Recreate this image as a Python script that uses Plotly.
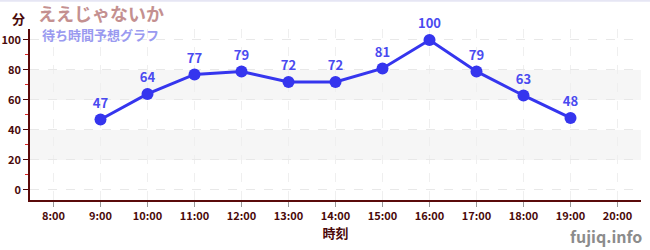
import plotly.graph_objects as go

times = ["8:00","9:00","10:00","11:00","12:00","13:00","14:00","15:00","16:00","17:00","18:00","19:00","20:00"]
waits = [None,47,64,77,79,72,72,81,100,79,63,48,None]
yticks = [0,20,40,60,80,100]
bands = [(20,40),(60,80)]

FONT = "Noto Sans CJK JP"
DARK = "#4a0a0a"

fig = go.Figure()
fig.add_trace(go.Scatter(
    x=list(range(len(times))), y=waits, mode="lines+markers+text",
    line=dict(color="#3535ee", width=3),
    marker=dict(color="#3535ee", size=12),
    text=[("" if v is None else str(v)) for v in waits],
    textposition="top center",
    textfont=dict(family=FONT, size=13, color="#4a4af0", weight="bold"),
    cliponaxis=False, hoverinfo="skip", connectgaps=False,
))

shapes = []
for lo, hi in bands:
    shapes.append(dict(type="rect", xref="paper", yref="y", x0=0, x1=1, y0=lo, y1=hi,
                       fillcolor="#f6f6f6", line=dict(width=0), layer="below"))
shapes.append(dict(type="line", xref="paper", yref="paper", x0=-0.1, x1=1.1, y0=1.165, y1=1.165,
                   line=dict(color="#e6e6f4", width=2)))
fig.update_layout(shapes=shapes)

fig.update_layout(
    width=650, height=250,
    margin=dict(l=30, r=9, t=29, b=50),
    paper_bgcolor="white", plot_bgcolor="white",
    showlegend=False,
    font=dict(family=FONT, color=DARK),
    xaxis=dict(
        range=[-0.5, 12.5], tickmode="array", tickvals=list(range(len(times))), ticktext=times,
        showgrid=True, gridcolor="#efefef", griddash="dash", gridwidth=1,
        showline=True, linecolor="#5a0a0a", linewidth=1.5,
        ticks="outside", ticklen=5, tickcolor="#999999",
        tickfont=dict(family=FONT, size=11, color=DARK, weight=600),
        zeroline=False, automargin=False,
        title=dict(text="時刻", font=dict(family=FONT, size=13, color=DARK, weight="bold"), standoff=6),
    ),
    yaxis=dict(
        range=[-6.67, 107.3], tickmode="array", tickvals=yticks,
        showgrid=True, gridcolor="#e8e8e8", griddash="dash", gridwidth=1,
        showline=True, linecolor="#5a0a0a", linewidth=1.5,
        ticks="outside", ticklen=5, tickcolor=DARK,
        tickfont=dict(family=FONT, size=11, color=DARK, weight=600),
        zeroline=False, automargin=False,
        minor=dict(tickvals=[10,30,50,70,90], ticks="outside", ticklen=3, tickcolor="#dd2222", showgrid=False),
    ),
)

fig.add_annotation(xref="paper", yref="paper", x=-0.033, y=1.06, xanchor="left", yanchor="middle",
                   text="<b>分</b>", showarrow=False, font=dict(family=FONT, size=13, color=DARK))
fig.add_annotation(xref="paper", yref="paper", x=0.01, y=1.095, xanchor="left", yanchor="middle",
                   text="<b>ええじゃないか</b>", showarrow=False, font=dict(family=FONT, size=18, color="#c49090"))
fig.add_annotation(xref="paper", yref="paper", x=0.016, y=0.965, xanchor="left", yanchor="middle",
                   text="<b>待ち時間予想グラフ</b>", showarrow=False, font=dict(family=FONT, size=13, color="#9a9af0"))
fig.add_annotation(xref="paper", yref="paper", x=1.005, y=-0.21, xanchor="right", yanchor="middle",
                   text="<b>fujiq.info</b>", showarrow=False, font=dict(family=FONT, size=16, color="#8c8c8c"))

fig.write_html("out.html")
